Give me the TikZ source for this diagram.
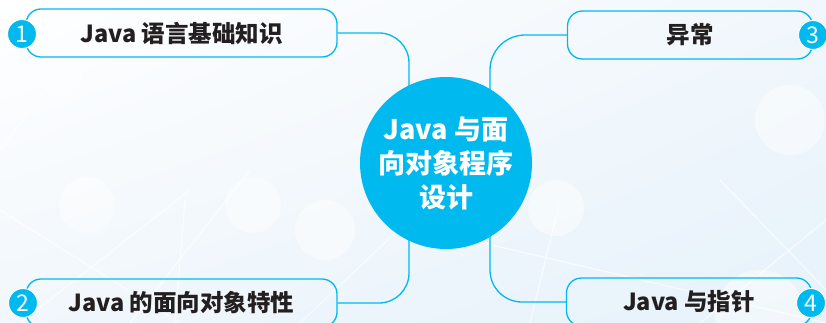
\documentclass[tikz,border=0pt]{standalone}
\usepackage{fontspec}
\usetikzlibrary{shadings}
\setmainfont{Noto Sans CJK SC}
\definecolor{cyanb}{HTML}{00B9EF}
\definecolor{txt}{HTML}{231F20}
\definecolor{bgblue}{HTML}{E6F2FB}
\definecolor{bgmid}{HTML}{F1F7FC}
\pgfdeclarelayer{bg}
\pgfdeclarelayer{conns}
\pgfsetlayers{bg,conns,main}
\tikzset{
  box/.style={draw=cyanb, line width=1.3pt, rounded corners=15pt, minimum width=311pt, minimum height=48pt, inner sep=0pt, font=\fontsize{23.5}{26}\selectfont\bfseries, text=txt},
  rbox/.style={box, minimum width=245pt},
  num/.style={circle, fill=cyanb, draw=white, line width=1pt, minimum size=29pt, inner sep=0pt, text=white, font=\fontsize{23}{23}\selectfont},
  conn/.style={draw=cyanb, line width=1.3pt},
  hub/.style={circle, fill=cyanb, minimum size=172pt, inner sep=0pt, text=white, align=center, font=\fontsize{27}{34}\selectfont\bfseries},
  deco/.style={fill=white, opacity=0.45},
  decoline/.style={draw=white, line width=1.2pt, opacity=0.7}
}
\begin{document}
\begin{tikzpicture}[x=1pt, y=-1pt]
\useasboundingbox (0,0) rectangle (826,323);
\clip (0,0) rectangle (826,323);
\begin{pgfonlayer}{bg}
\shade[upper left=white, upper right=bgmid, lower left=bgmid, lower right=bgblue] (0,0) rectangle (826,323);
\draw[decoline] (0,210) -- (180,323);
\draw[decoline] (20,323) -- (190,190);
\draw[decoline] (130,323) -- (250,170);
\draw[decoline] (175,323) -- (185,200);
\draw[decoline] (300,323) -- (430,200);
\draw[decoline] (470,240) -- (826,323);
\draw[decoline] (560,200) -- (530,323);
\draw[decoline] (720,180) -- (826,290);
\draw[decoline] (700,323) -- (826,220);
\draw[decoline] (0,150) -- (60,70);
\fill[deco] (87,205) circle (28);
\fill[deco] (253,205) circle (28);
\fill[deco] (325,230) circle (30);
\fill[deco] (556,208) circle (28);
\fill[deco] (60,75) circle (22);
\fill[deco] (790,120) circle (35);
\fill[deco] (760,315) circle (45);
\end{pgfonlayer}
% hub
\node[hub] (hub) at (446,163) {Java 与面\\向对象程序\\设计};
% boxes
\node[box] (b1) at (181.5,33) {Java 语言基础知识};
\node[box] (b2) at (181.5,303) {Java 的面向对象特性};
\node[rbox] (b3) at (690,35) {异常};
\node[rbox] (b4) at (689,302) {Java 与指针};
% connectors
\begin{pgfonlayer}{conns}
\draw[conn, rounded corners=30pt] (b1.east) -| ([xshift=-37pt]hub.center);
\draw[conn, rounded corners=30pt] (b2.east) -| ([xshift=-37pt]hub.center);
\draw[conn, rounded corners=35pt] (b3.west) -| ([xshift=44pt]hub.center);
\draw[conn, rounded corners=32pt] (b4.west) -| ([xshift=44pt]hub.center);
\end{pgfonlayer}
% numbers
\node[num] (n1) at (22,34) {1};
\node[num] (n2) at (23,303) {2};
\node[num] (n3) at (813,35) {3};
\node[num] (n4) at (811,303) {4};
\end{tikzpicture}
\end{document}
